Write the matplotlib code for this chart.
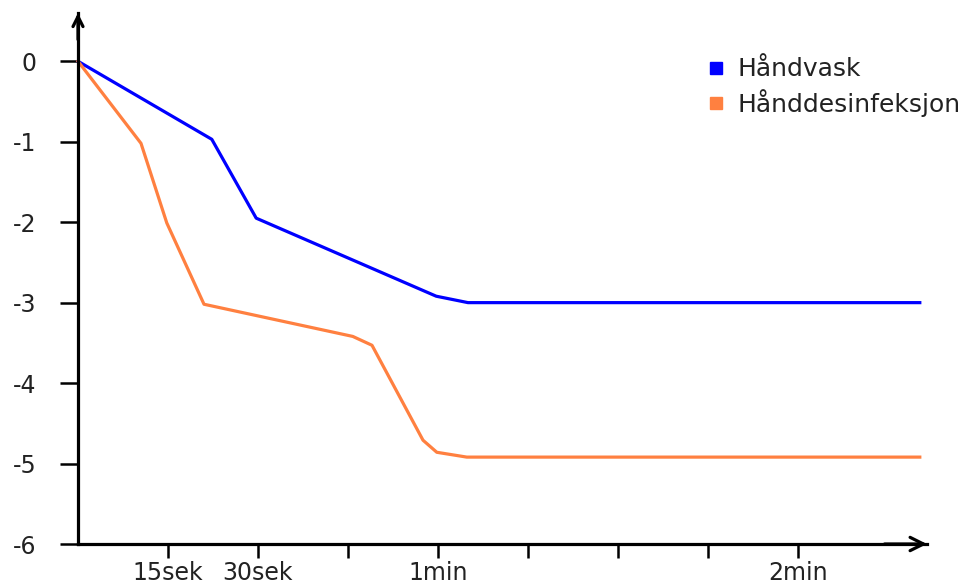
import matplotlib.pyplot as plt
from matplotlib.lines import Line2D

# Data (x i sekunder, y = log-reduksjon)
vask_x = [0, 22.3, 29.7, 59.7, 65, 140.3]
vask_y = [0, -0.97, -1.95, -2.92, -3.0, -3.0]

desinf_x = [0, 10.5, 14.8, 21, 45.8, 49, 57.5, 59.8, 64.8, 140.3]
desinf_y = [0, -1.02, -2.01, -3.02, -3.42, -3.53, -4.71, -4.86, -4.92, -4.92]

x_ticks = [15, 30, 45, 60, 75, 90, 105, 120]
x_labels = ['15sek', '30sek', '', '1min', '', '', '', '2min']
y_ticks = [0, -1, -2, -3, -4, -5, -6]

serier = ['Håndvask', 'Hånddesinfeksjon']
farger = ['#0000ff', '#ff8040']

plt.rcParams['font.family'] = ['DejaVu Sans']
tekst = '#222222'

fig = plt.figure(figsize=(9.62, 5.86), dpi=100)
ax = fig.add_axes([78/962, 42/586, 849/962, 531/586])

ax.plot(vask_x, vask_y, color=farger[0], lw=2.3, clip_on=False)
ax.plot(desinf_x, desinf_y, color=farger[1], lw=2.3, clip_on=False)

ax.set_xlim(0, 141.5)
ax.set_ylim(-6, 0.6)

ax.set_xticks(x_ticks)
ax.set_xticklabels(x_labels, fontsize=17, color=tekst)
ax.set_yticks(y_ticks)
ax.set_yticklabels([str(v) for v in y_ticks], fontsize=17, color=tekst)
ax.tick_params(axis='y', length=13, width=1.8, pad=17)
ax.tick_params(axis='x', length=10, width=1.8, pad=2)

for s in ['top', 'right']:
    ax.spines[s].set_visible(False)
for s in ['left', 'bottom']:
    ax.spines[s].set_linewidth(2.3)

# Piler paa aksene
ax.annotate('', xy=(1.0, 0), xytext=(0.95, 0), xycoords='axes fraction',
            arrowprops=dict(arrowstyle='->', lw=2.3, color='black',
                            mutation_scale=24, shrinkA=0, shrinkB=0))
ax.annotate('', xy=(0, 1.0), xytext=(0, 0.95), xycoords='axes fraction',
            arrowprops=dict(arrowstyle='->', lw=2.3, color='black',
                            mutation_scale=18, shrinkA=0, shrinkB=0))

handles = [Line2D([], [], marker='s', ls='none', color=c, markersize=8) for c in farger]
leg = fig.legend(handles, serier, loc='upper left', bbox_to_anchor=(681/962, 1 - 35/586),
                 frameon=False, fontsize=18, handletextpad=0.35, labelspacing=0.3,
                 handlelength=1.0)
for t in leg.get_texts():
    t.set_color(tekst)

fig.savefig('out.png', dpi=100)
